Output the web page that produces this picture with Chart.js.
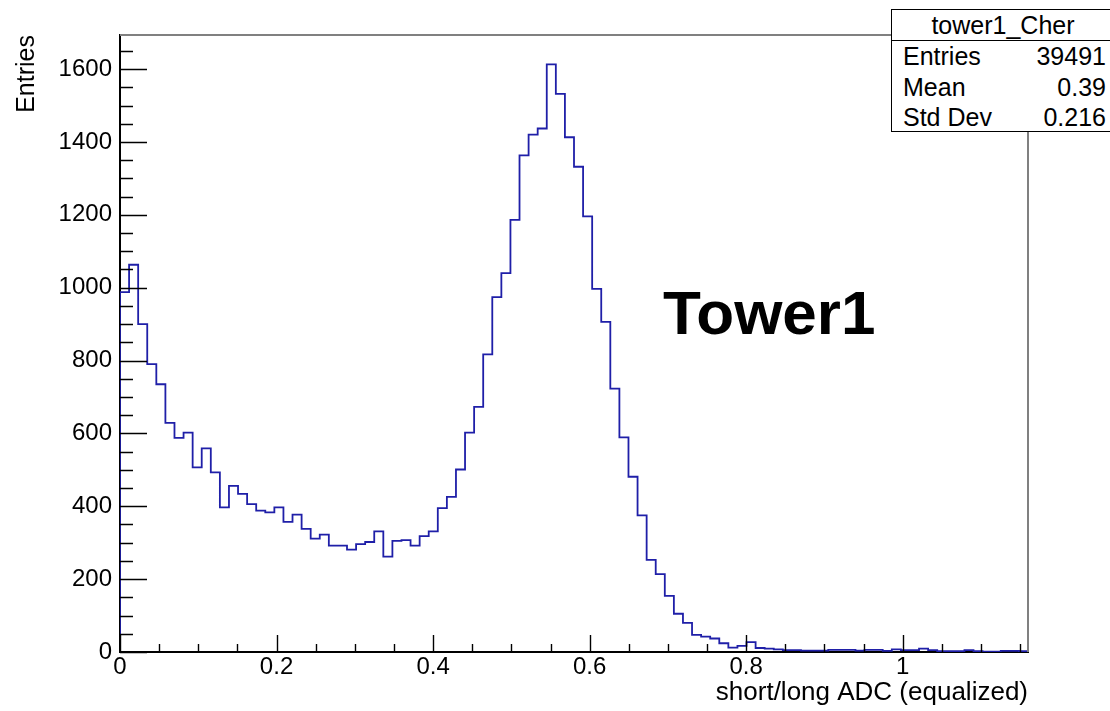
<!DOCTYPE html>
<html>
<head>
<meta charset="utf-8">
<title>tower1_Cher</title>
<script src="https://cdn.jsdelivr.net/npm/chart.js@4.4.1/dist/chart.umd.min.js"></script>
<style>
  html, body { margin: 0; padding: 0; background: #fff; overflow: hidden; }
  #wrap { position: relative; width: 1110px; height: 711px; overflow: hidden; }
  #c { position: absolute; left: 0; top: 0; }
  .stats {
    position: absolute; left: 891px; top: 9px; width: 224px; height: 123px;
    box-sizing: border-box; border: 1.5px solid #000; background: #fff;
    font-family: "Liberation Sans", Arial, sans-serif; font-size: 25px; color: #000;
  }
  .stats .head { height: 30px; line-height: 30px; text-align: center; border-bottom: 1.5px solid #000; }
  .stats .row { display: flex; justify-content: space-between; height: 30.5px; line-height: 30.5px; padding: 0 8px 0 11px; }
  .label-big {
    position: absolute; left: 663px; top: 282px; font-family: "Liberation Sans", Arial, sans-serif;
    font-weight: bold; font-size: 62px; line-height: 62px; color: #000; white-space: nowrap;
  }
</style>
</head>
<body>
<div id="wrap">
  <canvas id="c" width="1110" height="711"></canvas>
  <div class="stats">
    <div class="head">tower1_Cher</div>
    <div class="row"><span>Entries</span><span>39491</span></div>
    <div class="row"><span>Mean</span><span>0.39</span></div>
    <div class="row"><span>Std Dev</span><span>0.216</span></div>
  </div>
  <div class="label-big">Tower1</div>
</div>
<script>
// Histogram binning: 100 equal bins on [xLow, xHigh]
const xLow = 0;
const xHigh = 1.16;

// Bin contents, in bin order
const counts = [
  988, 1063, 900, 790, 735, 629, 588, 602, 507, 559,
  493, 397, 456, 434, 406, 388, 383, 397, 357, 377,
  338, 311, 322, 292, 292, 281, 296, 302, 331, 262,
  305, 307, 292, 318, 331, 395, 426, 501, 602, 673,
  817, 974, 1040, 1186, 1363, 1420, 1437, 1613, 1532, 1413,
  1332, 1196, 997, 906, 723, 589, 481, 375, 253, 214,
  154, 105, 80, 47, 42, 37, 24, 12, 17, 27,
  11, 9, 7, 5, 5, 4, 4, 4, 6, 6,
  6, 4, 6, 6, 3, 7, 5, 5, 9, 5,
  2, 2, 2, 5, 2, 1, 1, 3, 3, 2
];

// Axis tick settings
const xMajorLabels = [0, 0.2, 0.4, 0.6, 0.8, 1];
const yMajorLabels = [0, 200, 400, 600, 800, 1000, 1200, 1400, 1600];
const xMinorStep = 0.05;
const yMinorStep = 50;

const nBins = counts.length;
const binWidth = (xHigh - xLow) / nBins;
const yTop = Math.max(...counts) * 1.05;

// Outline points: each bin's level starts at its lower edge
const outline = [{ x: xLow, y: 0 }];
counts.forEach((v, i) => outline.push({ x: xLow + i * binWidth, y: v }));
outline.push({ x: xHigh, y: counts[nBins - 1] });
outline.push({ x: xHigh, y: 0 });

const isLabelled = (v, list) => list.some(t => Math.abs(t - v) < 1e-6);
const fmt = v => String(Math.round(v * 1000) / 1000);

// Tick marks pointing into the frame, plus the grey top/right frame edges
const frameTicks = {
  id: 'frameTicks',
  afterDatasetsDraw(chart) {
    const { ctx, chartArea: a, scales: { x, y } } = chart;
    ctx.save();
    ctx.strokeStyle = '#000';
    ctx.lineWidth = 1.4;
    ctx.beginPath();
    for (let i = 0; i * xMinorStep <= x.max + 1e-9; i++) {
      const v = i * xMinorStep;
      const px = Math.round(x.getPixelForValue(v)) + 0.5;
      const len = isLabelled(v, xMajorLabels) ? 17 : 8;
      ctx.moveTo(px, a.bottom);
      ctx.lineTo(px, a.bottom - len);
    }
    for (let i = 0; i * yMinorStep <= y.max + 1e-9; i++) {
      const v = i * yMinorStep;
      const py = Math.round(y.getPixelForValue(v)) + 0.5;
      const len = isLabelled(v, yMajorLabels) ? 27 : 13;
      ctx.moveTo(a.left, py);
      ctx.lineTo(a.left + len, py);
    }
    ctx.stroke();
    ctx.strokeStyle = '#808080';
    ctx.lineWidth = 2;
    ctx.beginPath();
    ctx.moveTo(a.left, a.top);
    ctx.lineTo(a.right, a.top);
    ctx.lineTo(a.right, a.bottom);
    ctx.stroke();
    ctx.restore();
  }
};

const font = { family: '"Liberation Sans", Arial, sans-serif', size: 24 };

new Chart(document.getElementById('c'), {
  type: 'line',
  data: {
    datasets: [{
      data: outline,
      stepped: 'before',
      borderColor: '#1f1fa8',
      borderWidth: 1.8,
      pointRadius: 0,
      fill: false
    }]
  },
  options: {
    responsive: false,
    animation: false,
    devicePixelRatio: 1,
    layout: { padding: { left: 0, top: 35, right: 82, bottom: 0 } },
    plugins: { legend: { display: false }, tooltip: { enabled: false } },
    scales: {
      x: {
        type: 'linear',
        min: xLow,
        max: xHigh,
        grid: { display: false, drawTicks: false },
        border: { display: true, color: '#000', width: 2 },
        ticks: {
          stepSize: xMinorStep,
          autoSkip: false,
          maxRotation: 0,
          padding: 1,
          color: '#000',
          font,
          callback: v => isLabelled(v, xMajorLabels) ? fmt(v) : ''
        },
        title: {
          display: true,
          text: 'short/long ADC (equalized)',
          align: 'end',
          color: '#000',
          font: { family: font.family, size: 26 },
          padding: { top: 0, bottom: 3 }
        },
        afterFit: s => { s.height = 59; }
      },
      y: {
        type: 'linear',
        min: 0,
        max: yTop,
        grid: { display: false, drawTicks: false },
        border: { display: true, color: '#000', width: 2 },
        ticks: {
          stepSize: yMinorStep,
          autoSkip: false,
          padding: 8,
          color: '#000',
          font,
          callback: v => isLabelled(v, yMajorLabels) ? fmt(v) : ''
        },
        title: {
          display: true,
          text: 'Entries',
          align: 'end',
          color: '#000',
          font: { family: font.family, size: 25 },
          padding: { top: 12, bottom: 0 }
        },
        afterFit: s => { s.width = 120; }
      }
    }
  },
  plugins: [frameTicks]
});
</script>
</body>
</html>
